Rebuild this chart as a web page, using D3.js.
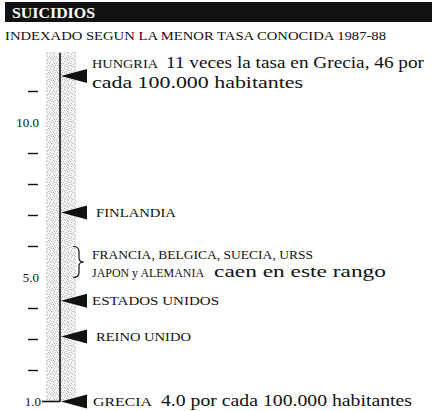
<!DOCTYPE html>
<html>
<head>
<meta charset="utf-8">
<script src="https://cdn.jsdelivr.net/npm/d3@7"></script>
<style>
  html, body { margin: 0; padding: 0; background: #fff; }
  svg { display: block; }
</style>
</head>
<body>
<script>
// ---- data ----
const title = "SUICIDIOS";
const subtitle = "INDEXADO SEGUN LA MENOR TASA CONOCIDA 1987-88";
const countries = ["HUNGRIA", "FINLANDIA", "ESTADOS UNIDOS", "REINO UNIDO", "GRECIA"];
const indexValues = [11.5, 7.1, 4.25, 3.1, 1.0];
const notes = [["11 veces la tasa en Grecia, 46 por", "cada 100.000 habitantes"], [], [], [], ["4.0 por cada 100.000 habitantes"]];
const rangeCountries = ["FRANCIA,  BELGICA, SUECIA, URSS", "JAPON y ALEMANIA"];
const rangeNote = "caen en este rango";
const rangeBounds = [5, 6];
const tickValues = [1, 2, 3, 4, 5, 6, 7, 8, 9, 10, 11];
const tickLabels = {1: "1.0", 5: "5.0", 10: "10.0"};

// ---- layout (not data) ----
const W = 432, H = 411;
const axisX = 60;
const FONT = "'Liberation Serif', serif";
const nameWidths = [66, 80, 127, 95, 59];
const nameX = [92, 96, 92, 96, 93];
const noteWidths = [[258, 211], [], [], [], [251]];

const svg = d3.select("body").append("svg").attr("width", W).attr("height", H)
  .attr("font-family", FONT);

function fit(sel, w) {
  if (!w) return sel;
  const L = sel.node().getComputedTextLength();
  if (Math.abs(L - w) > 0.5) sel.attr("textLength", w).attr("lengthAdjust", "spacingAndGlyphs");
  return sel;
}
function txt(x, yy, size, s) {
  return svg.append("text").attr("x", x).attr("y", yy).attr("font-size", size)
    .attr("font-family", FONT).attr("fill", "#111").text(s);
}

// stipple pattern
const defs = svg.append("defs");
const pat = defs.append("pattern").attr("id", "stip").attr("patternUnits", "userSpaceOnUse")
  .attr("width", 7).attr("height", 7);
pat.append("rect").attr("width", 7).attr("height", 7).attr("fill", "#f3f3f3");
[[0,0],[3,1],[6,2],[2,3],[5,4],[1,5],[4,6],[5,0],[1,2],[4,3]].forEach(([x, yy]) =>
  pat.append("rect").attr("x", x).attr("y", yy).attr("width", 1).attr("height", 1).attr("fill", "#bdbdbd"));

// title bar
svg.append("rect").attr("x", 5).attr("y", 2).attr("width", W - 5).attr("height", 20).attr("fill", "#111");
fit(txt(12, 18, 14.5, title).attr("font-weight", "bold").attr("fill", "#fff"), 83);
fit(txt(5, 40, 13, subtitle), 381);

// scale
const y = d3.scaleLinear().domain([1, 11]).range([401.5, 91.5]);

// stippled band and axis line
svg.append("rect").attr("x", 46).attr("y", 52).attr("width", 30).attr("height", y(1) - 52)
  .attr("fill", "url(#stip)");
svg.append("line").attr("x1", axisX).attr("x2", axisX).attr("y1", 53).attr("y2", y(1))
  .attr("stroke", "#111").attr("stroke-width", 1.6);

// ticks
tickValues.forEach(v => {
  if (v === 1) {
    svg.append("line").attr("x1", 42).attr("x2", axisX).attr("y1", y(v)).attr("y2", y(v))
      .attr("stroke", "#111").attr("stroke-width", 1.6);
    fit(txt(41, y(v) + 4.5, 13, tickLabels[v]).attr("text-anchor", "end"), 16);
  } else if (tickLabels[v]) {
    fit(txt(39, y(v) + 4.5, 13, tickLabels[v]).attr("text-anchor", "end"), v === 10 ? 23 : 16);
  } else {
    svg.append("line").attr("x1", 28).attr("x2", 38).attr("y1", y(v)).attr("y2", y(v))
      .attr("stroke", "#111").attr("stroke-width", 1.4);
  }
});

// markers
countries.forEach((c, i) => {
  const yy = y(indexValues[i]);
  svg.append("path")
    .attr("d", `M${axisX + 1},${yy} L${axisX + 27},${yy - 7} L${axisX + 27},${yy + 7} Z`)
    .attr("fill", "#111");
  const lines = notes[i];
  if (lines.length === 2) {
    fit(txt(nameX[i], yy - 8, 12.5, c), nameWidths[i]);
    fit(txt(nameX[i] + nameWidths[i] + 8, yy - 8, 16, lines[0]), noteWidths[i][0]);
    fit(txt(nameX[i], yy + 12, 16, lines[1]), noteWidths[i][1]);
  } else {
    fit(txt(nameX[i], yy + 4.5, 12.5, c), nameWidths[i]);
    if (lines.length === 1) {
      fit(txt(nameX[i] + nameWidths[i] + 9, yy + 4.5, 16, lines[0]), noteWidths[i][0]);
    }
  }
});

// range brace
const yTop = y(rangeBounds[1]), yBot = y(rangeBounds[0]), yMid = (yTop + yBot) / 2;
const bx = 73;
svg.append("path")
  .attr("d", `M${bx},${yTop} Q${bx + 6},${yTop} ${bx + 6},${yTop + 5} L${bx + 6},${yMid - 4}
    Q${bx + 6},${yMid} ${bx + 11},${yMid} Q${bx + 6},${yMid} ${bx + 6},${yMid + 4}
    L${bx + 6},${yBot - 5} Q${bx + 6},${yBot} ${bx},${yBot}`)
  .attr("fill", "none").attr("stroke", "#111").attr("stroke-width", 1.2);
fit(txt(92, yMid - 3, 12.5, rangeCountries[0]), 221);
fit(txt(92, yMid + 15, 12.5, rangeCountries[1]), 112);
fit(txt(214, yMid + 15, 16, rangeNote), 172);
</script>
</body>
</html>
